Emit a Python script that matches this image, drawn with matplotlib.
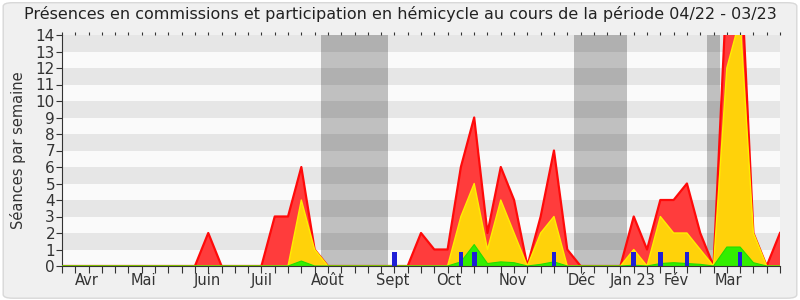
import matplotlib
matplotlib.use("Agg")
import matplotlib.pyplot as plt
from matplotlib.patches import FancyBboxPatch
import numpy as np

# ---- data (one value per week, index 0..54) ----
weeks = list(range(55))
red = [0]*11 + [2, 0, 0, 0, 0, 3, 3, 6, 1] + [0]*7 + \
      [2, 1, 1, 6, 9, 2, 6, 4, 0, 3, 7, 1, 0] + [0]*3 + \
      [3, 1, 4, 4, 5, 2, 0, 17, 19, 2, 0, 2]
yellow = [0]*18 + [4, 1] + [0]*10 + \
         [3, 5, 1, 4, 2, 0, 2, 3, 0] + [0]*4 + \
         [1, 0, 3, 2, 2, 1, 0, 12, 15, 2, 0, 0]
green = [0]*18 + [0.3] + [0]*11 + \
        [0.25, 1.3, 0.15, 0.25, 0.2, 0, 0.1, 0.25, 0] + [0]*4 + \
        [0.05, 0, 0.15, 0.2, 0.15, 0.1, 0, 1.15, 1.15, 0.2, 0, 0]
question_weeks = [25, 30, 31, 37, 43, 45, 47, 51]
question_values = [0.87] * 8
vacations = [(19.5, 24.5), (38.5, 42.5), (48.5, 49.5)]
month_labels = ["Avr", "Mai", "Juin", "Juil", "Août", "Sept", "Oct", "Nov",
                "Déc", "Jan 23", "Fév", "Mar"]
month_pos = [1.9, 6.1, 10.9, 15.0, 20.0, 24.9, 29.1, 33.9, 39.1, 42.9, 46.2, 50.1]
title = "Présences en commissions et participation en hémicycle au cours de la période 04/22 - 03/23"

fig = plt.figure(figsize=(8, 3), dpi=100)
fig.patch.set_facecolor("white")
bg = FancyBboxPatch((0.004, 0.006), 0.992, 0.985, boxstyle="round,pad=0,rounding_size=0.012",
                    transform=fig.transFigure, facecolor="#f0f0f0", edgecolor="#d8d8d8",
                    linewidth=1.0, zorder=-10)
fig.patches.append(bg)

ax = fig.add_axes([62/800, 1-266/300, (780-62)/800, (266-35)/300])
ax.set_facecolor("#fafafa")
ax.set_xlim(0, 54)
ax.set_ylim(0, 14)

for k in range(1, 14, 2):
    ax.axhspan(k, k+1, color="#e6e6e6", lw=0, zorder=0)
for a, b in vacations:
    ax.axvspan(a, b, color="black", alpha=0.23, lw=0, zorder=1)

ax.fill_between(weeks, red, 0, facecolor="#ff3c3c", edgecolor="none", zorder=2)
ax.plot(weeks, red, color="#ff0a0a", lw=1.6, zorder=2.1)
ax.fill_between(weeks, yellow, 0, facecolor="#ffd20a", edgecolor="none", zorder=3)
ax.plot(weeks, yellow, color="#ffee00", lw=1.0, zorder=3.1)
ax.fill_between(weeks, green, 0, facecolor="#33ee00", edgecolor="none", zorder=4)
ax.plot(weeks, green, color="#22dd00", lw=0.8, zorder=4.1)
ax.bar(question_weeks, question_values, width=0.35, color="#1f1fd6", zorder=5)

for s in ["top", "right"]:
    ax.spines[s].set_visible(False)
ax.spines["left"].set_color("#333333")
ax.spines["bottom"].set_color("#333333")
ax.spines["bottom"].set_zorder(6)

ax.set_yticks(range(0, 15))
ax.set_xticks(range(0, 55))
ax.set_xticklabels([])
ax.tick_params(axis="x", length=5, width=0.8, color="#333333", top=True)
ax.tick_params(axis="y", length=4, width=0.8, color="#333333", labelsize=11,
               labelcolor="#333333", pad=1)
for t in ax.xaxis.get_major_ticks():
    t.tick2line.set_markersize(2)
    t.tick2line.set_color("#333333")
for lbl, p in zip(month_labels, month_pos):
    ax.text(p, -0.45, lbl, ha="center", va="top", fontsize=10.5, color="#333333",
            transform=ax.transData)

ax.set_ylabel("Séances par semaine", fontsize=10.5, color="#333333", labelpad=7)
fig.text(0.5, 0.955, title, ha="center", va="center", fontsize=11.5, color="#222222")

fig.savefig("out.png", dpi=100, facecolor=fig.get_facecolor())
